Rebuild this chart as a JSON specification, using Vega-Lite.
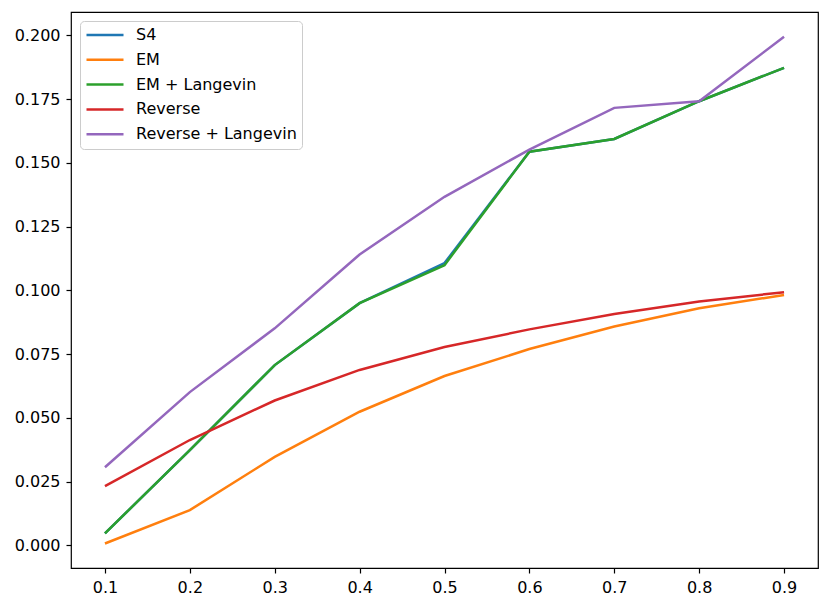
{
  "$schema": "https://vega.github.io/schema/vega-lite/v6.json",
  "autosize": {"type": "none"},
  "padding": {"left": 71, "top": 12, "right": 13, "bottom": 41},
  "width": 747,
  "height": 556,
  "background": "white",
  "data": {
    "values": [
      {"t": 0.1, "method": "S4", "value": 0.0047},
      {"t": 0.2, "method": "S4", "value": 0.0373},
      {"t": 0.3, "method": "S4", "value": 0.0707},
      {"t": 0.4, "method": "S4", "value": 0.0950},
      {"t": 0.5, "method": "S4", "value": 0.1107},
      {"t": 0.6, "method": "S4", "value": 0.1544},
      {"t": 0.7, "method": "S4", "value": 0.1594},
      {"t": 0.8, "method": "S4", "value": 0.1742},
      {"t": 0.9, "method": "S4", "value": 0.1873},
      {"t": 0.1, "method": "EM", "value": 0.0007},
      {"t": 0.2, "method": "EM", "value": 0.0138},
      {"t": 0.3, "method": "EM", "value": 0.0347},
      {"t": 0.4, "method": "EM", "value": 0.0524},
      {"t": 0.5, "method": "EM", "value": 0.0664},
      {"t": 0.6, "method": "EM", "value": 0.0770},
      {"t": 0.7, "method": "EM", "value": 0.0858},
      {"t": 0.8, "method": "EM", "value": 0.0930},
      {"t": 0.9, "method": "EM", "value": 0.0982},
      {"t": 0.1, "method": "EM + Langevin", "value": 0.0047},
      {"t": 0.2, "method": "EM + Langevin", "value": 0.0373},
      {"t": 0.3, "method": "EM + Langevin", "value": 0.0707},
      {"t": 0.4, "method": "EM + Langevin", "value": 0.0950},
      {"t": 0.5, "method": "EM + Langevin", "value": 0.1099},
      {"t": 0.6, "method": "EM + Langevin", "value": 0.1544},
      {"t": 0.7, "method": "EM + Langevin", "value": 0.1594},
      {"t": 0.8, "method": "EM + Langevin", "value": 0.1742},
      {"t": 0.9, "method": "EM + Langevin", "value": 0.1873},
      {"t": 0.1, "method": "Reverse", "value": 0.0232},
      {"t": 0.2, "method": "Reverse", "value": 0.0413},
      {"t": 0.3, "method": "Reverse", "value": 0.0568},
      {"t": 0.4, "method": "Reverse", "value": 0.0688},
      {"t": 0.5, "method": "Reverse", "value": 0.0778},
      {"t": 0.6, "method": "Reverse", "value": 0.0847},
      {"t": 0.7, "method": "Reverse", "value": 0.0907},
      {"t": 0.8, "method": "Reverse", "value": 0.0956},
      {"t": 0.9, "method": "Reverse", "value": 0.0993},
      {"t": 0.1, "method": "Reverse + Langevin", "value": 0.0306},
      {"t": 0.2, "method": "Reverse + Langevin", "value": 0.0601},
      {"t": 0.3, "method": "Reverse + Langevin", "value": 0.0851},
      {"t": 0.4, "method": "Reverse + Langevin", "value": 0.1141},
      {"t": 0.5, "method": "Reverse + Langevin", "value": 0.1367},
      {"t": 0.6, "method": "Reverse + Langevin", "value": 0.1552},
      {"t": 0.7, "method": "Reverse + Langevin", "value": 0.1716},
      {"t": 0.8, "method": "Reverse + Langevin", "value": 0.1742},
      {"t": 0.9, "method": "Reverse + Langevin", "value": 0.1995}
    ]
  },
  "mark": {"type": "line", "strokeWidth": 2.5, "clip": true},
  "encoding": {
    "x": {
      "field": "t",
      "type": "quantitative",
      "title": null,
      "scale": {"domain": [0.06, 0.94], "nice": false, "zero": false},
      "axis": {"values": [0.1, 0.2, 0.3, 0.4, 0.5, 0.6, 0.7, 0.8, 0.9], "format": ".1f"}
    },
    "y": {
      "field": "value",
      "type": "quantitative",
      "title": null,
      "scale": {"domain": [-0.0089, 0.2092], "nice": false, "zero": false},
      "axis": {"values": [0, 0.025, 0.05, 0.075, 0.1, 0.125, 0.15, 0.175, 0.2], "format": ".3f"}
    },
    "color": {
      "field": "method",
      "type": "nominal",
      "sort": ["S4", "EM", "EM + Langevin", "Reverse", "Reverse + Langevin"],
      "scale": {
        "domain": ["S4", "EM", "EM + Langevin", "Reverse", "Reverse + Langevin"],
        "range": ["#1f77b4", "#ff7f0e", "#2ca02c", "#d62728", "#9467bd"]
      },
      "legend": {
        "title": null,
        "orient": "none",
        "legendX": 9,
        "legendY": 9,
        "symbolType": "stroke",
        "symbolSize": 1369,
        "symbolStrokeWidth": 2.5,
        "clipHeight": 18,
        "rowPadding": 6.8,
        "labelOffset": 11,
        "labelLimit": 400,
        "labelFont": "DejaVu Sans",
        "labelFontSize": 16,
        "labelColor": "black",
        "padding": 5,
        "strokeColor": "#cccccc",
        "fillColor": "rgba(255,255,255,0.8)",
        "cornerRadius": 4
      }
    },
    "order": {"field": "t", "type": "quantitative"}
  },
  "config": {
    "view": {"stroke": "black", "strokeWidth": 1.2},
    "axis": {
      "grid": false,
      "domain": false,
      "ticks": true,
      "tickColor": "black",
      "tickSize": 5,
      "tickWidth": 1.2,
      "labelFont": "DejaVu Sans",
      "labelFontSize": 16,
      "labelColor": "black",
      "labelPadding": 6
    }
  }
}
